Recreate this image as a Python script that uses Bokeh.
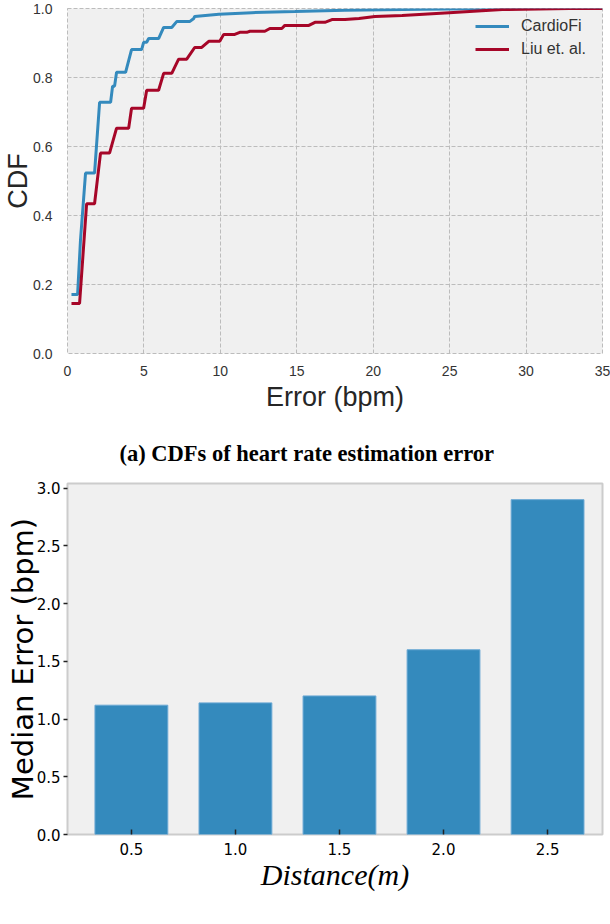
from bokeh.plotting import figure
from bokeh.layouts import column
from bokeh.models import Range1d, FixedTicker, Title
from bokeh.embed import file_html
from bokeh.resources import INLINE

# ---------- data: CDF of heart-rate estimation error ----------
cardiofi_err = [0.26, 0.66, 0.85, 1.18, 1.77, 2.10, 2.82, 2.95, 3.08, 3.21,
                3.80, 4.19, 4.85, 4.98, 5.18, 5.31, 5.96, 6.29, 6.82, 7.14,
                7.99, 8.26, 8.32, 9.90, 12.06, 14.88, 18.15, 23.2, 28.0, 35.0]
cardiofi_cdf = [0.171, 0.171, 0.329, 0.523, 0.523, 0.728, 0.728, 0.775, 0.775, 0.815,
                0.815, 0.881, 0.881, 0.902, 0.902, 0.913, 0.913, 0.945, 0.945, 0.962,
                0.962, 0.971, 0.977, 0.983, 0.988, 0.991, 0.995, 0.998, 1.0, 1.0]

liu_err = [0.26, 0.79, 1.25, 1.77, 2.16, 2.75, 3.21, 4.0, 4.19, 4.98,
           5.18, 5.96, 6.29, 6.82, 7.27, 7.80, 8.32, 8.78, 9.24, 9.96,
           10.22, 10.94, 11.27, 11.73, 11.93, 12.91, 13.24, 14.02, 14.22, 15.79,
           16.19, 16.84, 17.30, 18.15, 19.07, 20.12, 21.89, 24.97, 28.44, 32.83, 35.0]
liu_cdf = [0.145, 0.145, 0.434, 0.434, 0.581, 0.581, 0.653, 0.653, 0.711, 0.711,
           0.763, 0.763, 0.812, 0.812, 0.853, 0.853, 0.887, 0.887, 0.905, 0.905,
           0.925, 0.925, 0.931, 0.931, 0.934, 0.934, 0.942, 0.942, 0.951, 0.951,
           0.960, 0.960, 0.968, 0.968, 0.971, 0.977, 0.980, 0.988, 0.997, 1.0, 1.0]

cdf_xticks = [0, 5, 10, 15, 20, 25, 30, 35]
cdf_yticks = [0.0, 0.2, 0.4, 0.6, 0.8, 1.0]

# ---------- data: median error vs distance ----------
distances = [0.5, 1.0, 1.5, 2.0, 2.5]
median_err = [1.12, 1.14, 1.20, 1.60, 2.90]
bar_yticks = [0.0, 0.5, 1.0, 1.5, 2.0, 2.5, 3.0]

BLUE = "#348ABD"
RED = "#A60628"
SANS = "Liberation Sans"

# ---------- top: CDF ----------
p1 = figure(width=610, height=420, x_range=Range1d(0, 35), y_range=Range1d(0, 1.0),
            output_backend="svg", toolbar_location=None,
            min_border_left=66, min_border_right=8, min_border_top=8, min_border_bottom=67)
p1.background_fill_color = "#F0F0F0"
p1.border_fill_color = "white"
p1.outline_line_color = "#bcbcbc"
p1.outline_line_dash = "4 2"
p1.outline_line_width = 1
p1.grid.grid_line_color = "#bcbcbc"
p1.grid.grid_line_dash = "4 2"
p1.grid.grid_line_width = 1

p1.xaxis.ticker = FixedTicker(ticks=cdf_xticks)
p1.yaxis.ticker = FixedTicker(ticks=cdf_yticks)
p1.xaxis.major_label_overrides = {t: str(t) for t in cdf_xticks}
p1.yaxis.major_label_overrides = {t: f"{t:.1f}" for t in cdf_yticks}
for ax in (p1.xaxis, p1.yaxis):
    ax.axis_line_color = None
    ax.major_tick_line_color = None
    ax.minor_tick_line_color = None
    ax.major_label_text_font = SANS
    ax.major_label_text_font_size = "14px"
    ax.major_label_text_color = "#333333"
    ax.axis_label_text_font = SANS
    ax.axis_label_text_font_size = "27px"
    ax.axis_label_text_font_style = "normal"
    ax.axis_label_text_color = "#262626"
p1.xaxis.axis_label = "Error (bpm)"
p1.yaxis.axis_label = "CDF"
p1.xaxis.major_label_standoff = 6
p1.xaxis.axis_label_standoff = 3
p1.yaxis.major_label_standoff = 9
p1.yaxis.axis_label_standoff = -3

p1.line(cardiofi_err, cardiofi_cdf, line_color=BLUE, line_width=3, legend_label="CardioFi")
p1.line(liu_err, liu_cdf, line_color=RED, line_width=3, legend_label="Liu et. al.")

lg = p1.legend[0]
lg.location = (404, 290)
lg.background_fill_alpha = 0
lg.border_line_alpha = 0
lg.label_text_font = SANS
lg.label_text_font_size = "16px"
lg.label_text_color = "#333333"
lg.glyph_width = 34
lg.label_standoff = 12
lg.spacing = 3
lg.margin = 0
lg.padding = 4

# ---------- bottom: bar chart ----------
p2 = figure(width=610, height=504, x_range=Range1d(0.193, 2.764), y_range=Range1d(0, 3.04),
            output_backend="svg", toolbar_location=None,
            min_border_left=66, min_border_right=8, min_border_top=61, min_border_bottom=90)
p2.background_fill_color = "#F0F0F0"
p2.border_fill_color = "white"
p2.outline_line_color = "#cccccc"
p2.outline_line_width = 2
p2.grid.grid_line_color = None

caption = Title(text="(a) CDFs of heart rate estimation error", align="left",
                text_font="Liberation Serif", text_font_size="22.5px",
                text_font_style="bold", text_color="black", standoff=36, offset=52)
p2.add_layout(caption, "above")

p2.vbar(x=distances, top=median_err, bottom=0, width=0.35,
        fill_color=BLUE, line_color="#6aa8d4", line_width=1)

p2.xaxis.ticker = FixedTicker(ticks=distances)
p2.yaxis.ticker = FixedTicker(ticks=bar_yticks)
p2.xaxis.major_label_overrides = {t: f"{t:.1f}" for t in distances}
p2.yaxis.major_label_overrides = {t: f"{t:.1f}" for t in bar_yticks}
for ax in (p2.xaxis, p2.yaxis):
    ax.axis_line_color = None
    ax.minor_tick_line_color = None
    ax.major_tick_line_color = "#222222"
    ax.major_tick_line_width = 1.5
    ax.major_label_text_font = "DejaVu Sans"
    ax.major_label_text_font_size = "15px"
    ax.major_label_text_color = "black"
    ax.axis_label_text_color = "black"
p2.xaxis.major_tick_in = 5
p2.xaxis.major_tick_out = 0
p2.yaxis.major_tick_in = 0
p2.yaxis.major_tick_out = 4
p2.xaxis.major_label_standoff = 8
p2.yaxis.major_label_standoff = 3

p2.xaxis.axis_label = "Distance(m)"
p2.xaxis.axis_label_text_font = "Liberation Serif"
p2.xaxis.axis_label_text_font_style = "italic"
p2.xaxis.axis_label_text_font_size = "30px"
p2.xaxis.axis_label_standoff = 0

p2.yaxis.axis_label = "Median Error (bpm)"
p2.yaxis.axis_label_text_font = "DejaVu Sans"
p2.yaxis.axis_label_text_font_style = "normal"
p2.yaxis.axis_label_text_font_size = "29px"
p2.yaxis.axis_label_standoff = -6

layout = column(p1, p2, spacing=0)
open("out.html", "w").write(file_html(layout, INLINE))
